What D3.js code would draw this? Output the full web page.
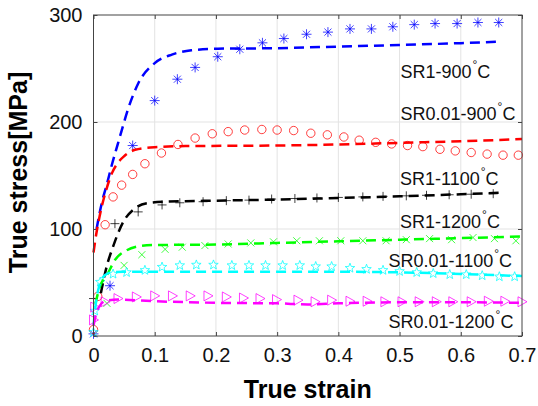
<!DOCTYPE html>
<html>
<head>
<meta charset="utf-8">
<script src="https://cdn.jsdelivr.net/npm/d3@7"></script>
<style>
  body { margin: 0; background: #fff; }
  text { font-family: "Liberation Sans", Arial, sans-serif; }
</style>
</head>
<body>
<svg id="chart"></svg>
<script>
// ---- data ----
const xTicks = [0, 0.1, 0.2, 0.3, 0.4, 0.5, 0.6, 0.7];
const yTicks = [0, 100, 200, 300];

// SR1-900C (blue)
const expStrainSR1_900 = [0, 0.027, 0.064, 0.1, 0.137, 0.166, 0.203, 0.239, 0.276, 0.311, 0.348, 0.383, 0.419, 0.454, 0.489, 0.524, 0.558, 0.594, 0.628, 0.662];
const expStressSR1_900 = [2, 47, 178, 220, 240, 251, 261, 268, 274, 278, 282, 284, 287, 287, 289, 291, 292, 292, 293, 293];
const fitStrainSR1_900 = [0.005, 0.01, 0.016, 0.021, 0.03, 0.04, 0.046, 0.057, 0.073, 0.1, 0.128, 0.16, 0.203, 0.3, 0.4, 0.5, 0.6, 0.66];
const fitStressSR1_900 = [100, 115, 130, 140, 160, 180, 192, 213, 236, 255, 263, 267, 268.5, 269, 270.5, 272, 273.7, 275];

// SR0.01-900C (red)
const expStrainSR001_900 = [0, 0.007, 0.019, 0.032, 0.046, 0.064, 0.084, 0.111, 0.138, 0.166, 0.194, 0.22, 0.247, 0.275, 0.3, 0.327, 0.355, 0.382, 0.409, 0.434, 0.461, 0.487, 0.513, 0.538, 0.566, 0.591, 0.617, 0.643, 0.669, 0.694];
const expStressSR001_900 = [6, 37, 104, 130, 141, 151, 161, 171, 179, 185, 189, 191, 192.5, 193, 192.5, 192, 189.5, 188, 186, 183, 181, 179.5, 178, 177, 174.5, 173, 171.5, 170, 169, 169];
const fitStrainSR001_900 = [0, 0.005, 0.01, 0.02, 0.03, 0.04, 0.05, 0.068, 0.1, 0.15, 0.3, 0.4, 0.5, 0.6, 0.7];
const fitStressSR001_900 = [78, 97, 112, 135, 152, 162, 168, 174, 176.5, 177.5, 178, 179, 180.5, 182, 184];

// SR1-1100C (black)
const expStrainSR1_1100 = [0, 0.035, 0.073, 0.112, 0.141, 0.179, 0.217, 0.254, 0.291, 0.329, 0.365, 0.4, 0.44, 0.473, 0.511, 0.544, 0.581, 0.617, 0.653];
const expStressSR1_1100 = [35, 105, 116, 122.5, 124.5, 125.5, 126.5, 127, 128, 128.5, 129, 129.5, 130, 130.5, 131, 131.5, 132, 132.5, 133];
const fitStrainSR1_1100 = [0.012, 0.022, 0.032, 0.038, 0.049, 0.065, 0.087, 0.117, 0.15, 0.2, 0.3, 0.4, 0.5, 0.6, 0.67];
const fitStressSR1_1100 = [40, 66, 83.5, 93, 107, 118, 124, 125.5, 126, 126.5, 127.5, 129, 130.5, 132.5, 134];

// SR1-1200C (green)
const expStrainSR1_1200 = [0.022, 0.05, 0.079, 0.117, 0.145, 0.182, 0.22, 0.257, 0.294, 0.332, 0.369, 0.404, 0.44, 0.478, 0.511, 0.549, 0.585, 0.62, 0.655, 0.69];
const expStressSR1_1200 = [30.5, 66, 76, 81, 83, 84.5, 86, 87, 88, 89, 89, 89, 89, 89, 90, 91, 90, 92, 91, 89];
const fitStrainSR1_1200 = [0.003, 0.011, 0.022, 0.035, 0.054, 0.076, 0.1, 0.2, 0.3, 0.4, 0.5, 0.6, 0.7];
const fitStressSR1_1200 = [30, 47, 57, 71, 80, 84, 85, 85.5, 87, 88.5, 90, 91.5, 93];

// SR0.01-1100C (cyan)
const expStrainSR001_1100 = [0, 0.002, 0.011, 0.032, 0.054, 0.084, 0.112, 0.141, 0.168, 0.196, 0.226, 0.254, 0.281, 0.309, 0.337, 0.363, 0.389, 0.419, 0.446, 0.473, 0.5, 0.528, 0.555, 0.582, 0.609, 0.635, 0.663, 0.688];
const expStressSR001_1100 = [4, 24, 51, 58.5, 60, 62, 65, 66.5, 67, 67, 66.5, 66.5, 66.5, 66.5, 66.5, 65.5, 65.5, 64, 63, 62, 61, 60, 59, 58, 58, 57, 56, 56];
const fitStrainSR001_1100 = [0, 0.005, 0.01, 0.019, 0.03, 0.05, 0.1, 0.2, 0.3, 0.4, 0.5, 0.6, 0.7];
const fitStressSR001_1100 = [10, 35, 48, 57, 59.5, 60, 60, 60, 60, 60, 59.5, 58, 56];

// SR0.01-1200C (magenta)
const expStrainSR001_1200 = [0, 0.002, 0.019, 0.04, 0.07, 0.1, 0.129, 0.158, 0.187, 0.217, 0.245, 0.272, 0.299, 0.334, 0.362, 0.389, 0.419, 0.447, 0.476, 0.504, 0.532, 0.56, 0.587, 0.617, 0.645, 0.672, 0.7];
const expStressSR001_1200 = [15, 27, 32, 35, 36.5, 37.5, 37.5, 37.5, 37.5, 36.5, 35.5, 35, 34, 33.5, 32, 33.5, 32.5, 32.5, 32, 32, 32, 32, 32, 32, 32.5, 32.5, 32];
const fitStrainSR001_1200 = [0, 0.005, 0.01, 0.02, 0.04, 0.1, 0.2, 0.3, 0.35, 0.4, 0.5, 0.6, 0.7];
const fitStressSR001_1200 = [10, 22, 28, 33, 34, 32.5, 31, 30.5, 29.5, 30.5, 31.5, 31.5, 31];

const seriesNames = ["SR1-900", "SR0.01-900", "SR1-1100", "SR1-1200", "SR0.01-1100", "SR0.01-1200"];

// ---- layout ----
const width = 538, height = 406;
const margin = { top: 15, right: 16, bottom: 70, left: 93.5 };
const innerW = width - margin.left - margin.right;
const innerH = height - margin.top - margin.bottom;

const svg = d3.select('#chart').attr('width', width).attr('height', height);
const chart = svg.append('g').attr('transform', `translate(${margin.left},${margin.top})`);

const xScale = d3.scaleLinear().domain([0, 0.7]).range([0, innerW]);
const yScale = d3.scaleLinear().domain([0, 300]).range([innerH, 0]);

// grid
chart.append('g').attr('class', 'grid')
  .selectAll('line.gx').data(xTicks.slice(1, -1)).join('line')
  .attr('x1', d => xScale(d)).attr('x2', d => xScale(d))
  .attr('y1', 0).attr('y2', innerH)
  .attr('stroke', '#e3e3e3').attr('stroke-width', 1);
chart.select('.grid')
  .selectAll('line.gy').data(yTicks.slice(1, -1)).join('line')
  .attr('class', 'gy')
  .attr('x1', 0).attr('x2', innerW)
  .attr('y1', d => yScale(d)).attr('y2', d => yScale(d))
  .attr('stroke', '#e3e3e3').attr('stroke-width', 1);

// axes (ticks inside, like matlab)
const xAxis = d3.axisBottom(xScale).tickValues(xTicks).tickSize(-4).tickPadding(12).tickFormat(d3.format('~g'));
const yAxis = d3.axisLeft(yScale).tickValues(yTicks).tickSize(-4).tickPadding(11);

const styleAxis = g => {
  g.select('.domain').remove();
  g.selectAll('.tick line').attr('stroke', '#444');
  g.selectAll('.tick text').attr('fill', '#111').style('font-size', '20px')
    .style('font-family', '"Liberation Sans", Arial, sans-serif');
};
chart.append('g').attr('transform', `translate(0,${innerH})`).call(xAxis).call(styleAxis);
chart.append('g').call(yAxis).call(styleAxis);
chart.append('g').call(d3.axisTop(xScale).tickValues(xTicks).tickSize(-4).tickFormat(''))
  .call(g => { g.select('.domain').remove(); g.selectAll('.tick line').attr('stroke', '#444'); });
chart.append('g').attr('transform', `translate(${innerW},0)`)
  .call(d3.axisRight(yScale).tickValues(yTicks).tickSize(-4).tickFormat(''))
  .call(g => { g.select('.domain').remove(); g.selectAll('.tick line').attr('stroke', '#444'); });

// markers, matlab style
function markerPath(type) {
  if (type === 'asterisk') {
    const r = 5, d = r * 0.7071;
    return `M${-r},0H${r}M0,${-r}V${r}M${-d},${-d}L${d},${d}M${-d},${d}L${d},${-d}`;
  }
  if (type === 'circle') {
    const r = 4.2;
    return `M${r},0A${r},${r} 0 1,1 ${-r},0A${r},${r} 0 1,1 ${r},0Z`;
  }
  if (type === 'plus') {
    const r = 4.5;
    return `M${-r},0H${r}M0,${-r}V${r}`;
  }
  if (type === 'cross') {
    const r = 3.5;
    return `M${-r},${-r}L${r},${r}M${-r},${r}L${r},${-r}`;
  }
  if (type === 'pentagram') {
    const pts = d3.range(10).map(i => {
      const rr = i % 2 === 0 ? 5 : 2.1;
      const a = -Math.PI / 2 + i * Math.PI / 5;
      return [rr * Math.cos(a), rr * Math.sin(a) + 0.6];
    });
    return 'M' + pts.map(p => p.join(',')).join('L') + 'Z';
  }
  // triangle pointing right
  return 'M5,0L-4,-5L-4,5Z';
}

const series = [
  { color: '#0000ff', marker: 'asterisk', xs: expStrainSR1_900, ys: expStressSR1_900, fx: fitStrainSR1_900, fy: fitStressSR1_900 },
  { color: '#ff0000', marker: 'circle', xs: expStrainSR001_900, ys: expStressSR001_900, fx: fitStrainSR001_900, fy: fitStressSR001_900 },
  { color: '#000000', marker: 'plus', xs: expStrainSR1_1100, ys: expStressSR1_1100, fx: fitStrainSR1_1100, fy: fitStressSR1_1100 },
  { color: '#00ff00', marker: 'cross', xs: expStrainSR1_1200, ys: expStressSR1_1200, fx: fitStrainSR1_1200, fy: fitStressSR1_1200 },
  { color: '#00ffff', marker: 'pentagram', xs: expStrainSR001_1100, ys: expStressSR001_1100, fx: fitStrainSR001_1100, fy: fitStressSR001_1100 },
  { color: '#ff00ff', marker: 'triangle', xs: expStrainSR001_1200, ys: expStressSR001_1200, fx: fitStrainSR001_1200, fy: fitStressSR001_1200 }
];

const line = d3.line()
  .x(d => xScale(d[0]))
  .y(d => yScale(d[1]))
  .curve(d3.curveMonotoneX);

series.forEach((s, i) => {
  const pts = s.xs.map((x, k) => [x, s.ys[k]]);
  chart.append('g').attr('class', 'markers-' + i)
    .selectAll('path').data(pts).join('path')
    .attr('transform', d => `translate(${xScale(d[0])},${yScale(d[1])})`)
    .attr('d', markerPath(s.marker))
    .attr('fill', 'none')
    .attr('stroke', s.color)
    .attr('stroke-opacity', 0.75)
    .attr('stroke-width', 1);
});

series.forEach((s, i) => {
  const fit = s.fx.map((x, k) => [x, s.fy[k]]);
  chart.append('path')
    .datum(fit)
    .attr('class', 'fit-' + i)
    .attr('d', line)
    .attr('fill', 'none')
    .attr('stroke', s.color)
    .attr('stroke-width', 2.5)
    .attr('stroke-dasharray', '10,6');
});

// frame
chart.append('rect')
  .attr('width', innerW).attr('height', innerH)
  .attr('fill', 'none').attr('stroke', '#444').attr('stroke-width', 1);

// series labels (positions in px inside the plot)
const labelPos = [[307, 63], [307, 105], [306.5, 170], [306.5, 213], [295, 252], [295, 313]];
seriesNames.forEach((name, i) => {
  const t = chart.append('text')
    .attr('x', labelPos[i][0]).attr('y', labelPos[i][1])
    .attr('fill', '#111').style('font-size', '18px');
  t.append('tspan').text(name);
  t.append('tspan').text('°').style('font-size', '12px').attr('dx', 1).attr('dy', -9);
  t.append('tspan').text('C').attr('dy', 9);
});

// axis titles
svg.append('text')
  .attr('x', margin.left + innerW / 2).attr('y', 398)
  .attr('text-anchor', 'middle')
  .style('font-size', '25px').style('font-weight', 'bold')
  .text('True strain');

svg.append('text')
  .attr('transform', `translate(27,${margin.top + innerH / 2 - 3}) rotate(-90)`)
  .attr('text-anchor', 'middle')
  .style('font-size', '25px').style('font-weight', 'bold')
  .text('True stress[MPa]');
</script>
</body>
</html>
